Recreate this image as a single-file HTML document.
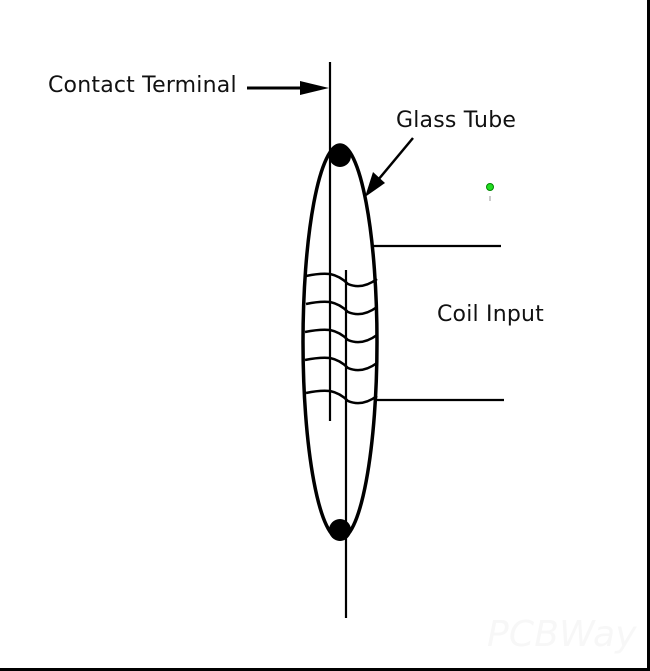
<!DOCTYPE html>
<html><head><style>
body{margin:0;background:#fff;}
svg{display:block}
text{font-family:"DejaVu Sans",sans-serif;font-size:22px;fill:#111;letter-spacing:0.2px}
</style></head><body>
<svg width="650" height="671" viewBox="0 0 650 671">
<rect x="0" y="0" width="650" height="671" fill="#fff"/>
<line x1="0" y1="669.5" x2="650" y2="669.5" stroke="#000" stroke-width="3"/>
<line x1="648.5" y1="0" x2="648.5" y2="671" stroke="#000" stroke-width="3"/>
<text x="48" y="92">Contact Terminal</text>
<text x="396" y="127">Glass Tube</text>
<text x="437" y="321">Coil Input</text>
<line x1="247" y1="88" x2="310" y2="88" stroke="#000" stroke-width="3"/>
<polygon points="300,81 329,88 300,95" fill="#000"/>
<line x1="413" y1="138" x2="378" y2="180" stroke="#000" stroke-width="2.5"/>
<polygon points="373,172 385,183 365,197" fill="#000"/>
<ellipse cx="340" cy="342" rx="37" ry="197" fill="none" stroke="#000" stroke-width="3.5"/>
<line x1="330" y1="62" x2="330" y2="421" stroke="#000" stroke-width="2.2"/>
<line x1="346" y1="270" x2="346" y2="618" stroke="#000" stroke-width="2.2"/>
<circle cx="340" cy="156" r="11" fill="#000"/>
<circle cx="340" cy="530" r="11" fill="#000"/>
<line x1="372" y1="246" x2="501" y2="246" stroke="#000" stroke-width="2.2"/>
<line x1="374" y1="400" x2="504" y2="400" stroke="#000" stroke-width="2.2"/>
<g fill="none" stroke="#000" stroke-width="2.5">
<path d="M306,276 Q320,273 330,274 Q340,276 348,284 Q362,290 377,279"/>
<path d="M306,304 Q320,301 330,302 Q340,304 348,312 Q362,318 377,307"/>
<path d="M305,332 Q320,329 330,330 Q340,332 348,340 Q362,346 377,335"/>
<path d="M305,360 Q320,357 330,358 Q340,360 348,368 Q362,374 377,363"/>
<path d="M306,393 Q320,390 330,391 Q340,393 348,401 Q362,407 377,396"/>
</g>
<circle cx="490" cy="187" r="3.5" fill="#2d2" stroke="#080" stroke-width="1"/>
<line x1="490" y1="196" x2="490" y2="201" stroke="#999" stroke-width="1"/>
<text x="487" y="646" style="font-size:36px;fill:#f7f7f7;font-style:italic">PCBWay</text>
</svg>
</body></html>
